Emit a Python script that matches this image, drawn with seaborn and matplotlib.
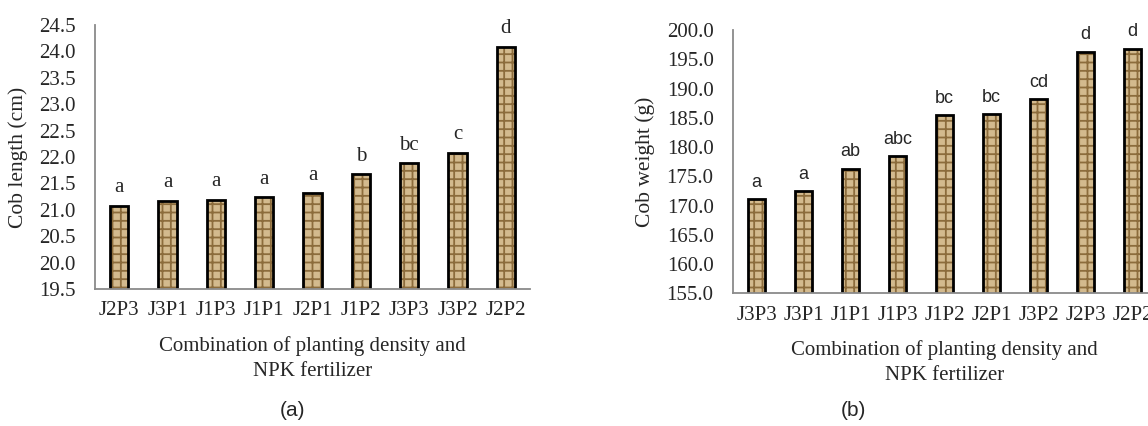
"""Cob length and cob weight by planting density x NPK combination"""

import numpy as np
import matplotlib
matplotlib.use("Agg")
import matplotlib.pyplot as plt
import seaborn as sns

# data
length_labels = ["J2P3", "J3P1", "J1P3", "J1P1", "J2P1", "J1P2", "J3P3", "J3P2", "J2P2"]
length_values = [21.08, 21.17, 21.19, 21.24, 21.31, 21.67, 21.88, 22.08, 24.09]
length_letters = ["a", "a", "a", "a", "a", "b", "bc", "c", "d"]
length_ticks = [19.5, 20.0, 20.5, 21.0, 21.5, 22.0, 22.5, 23.0, 23.5, 24.0, 24.5]

weight_labels = ["J3P3", "J3P1", "J1P1", "J1P3", "J1P2", "J2P1", "J3P2", "J2P3", "J2P2"]
weight_values = [171.1, 172.5, 176.3, 178.4, 185.4, 185.6, 188.2, 196.3, 196.8]
weight_letters = ["a", "a", "ab", "abc", "bc", "bc", "cd", "d", "d"]
weight_ticks = [155.0, 160.0, 165.0, 170.0, 175.0, 180.0, 185.0, 190.0, 195.0, 200.0]

X_TITLE = "Combination of planting density and\nNPK fertilizer"
AXIS_GREY = "#8a8a8a"
BAR_FACE = "#d3ba8e"
BAR_HATCH = "#8c6c3c"
SERIF = ["Liberation Serif", "DejaVu Serif"]
SANS = ["Liberation Sans", "DejaVu Sans"]

sns.set_theme(style="white")
plt.rcParams["font.family"] = SERIF
plt.rcParams["hatch.linewidth"] = 1.3


def draw_panel(ax, labels, values, letters, ticks, ylabel, label_x, letter_font, letter_size):
    # textured fill, then black outline on top
    sns.barplot(x=labels, y=values, color=BAR_FACE, saturation=1, width=0.38,
                hatch="++", edgecolor=BAR_HATCH, linewidth=0, ax=ax)
    sns.barplot(x=labels, y=values, fill=False, width=0.38,
                edgecolor="black", linewidth=2, ax=ax)

    for i, (v, s) in enumerate(zip(values, letters)):
        ax.annotate(s, (i, v), xytext=(0, 6), textcoords="offset points",
                    ha="center", va="bottom", fontsize=letter_size,
                    family=letter_font)

    ax.set_ylim(ticks[0], ticks[-1])
    ax.set_yticks(ticks)
    ax.set_yticklabels([f"{t:.1f}" for t in ticks], fontsize=15)
    ax.set_xlim(-0.5, len(labels) - 0.5)
    ax.set_xticks(np.arange(-0.5, len(labels), 1), minor=True)
    ax.tick_params(axis="x", which="major", length=0, pad=9, labelsize=15)
    ax.tick_params(axis="x", which="minor", length=5, width=1.2, color=AXIS_GREY, direction="out")
    ax.tick_params(axis="y", length=5, width=1.2, color=AXIS_GREY, direction="out", pad=9)

    for side in ["top", "right"]:
        ax.spines[side].set_visible(False)
    for side in ["left", "bottom"]:
        ax.spines[side].set_color(AXIS_GREY)
        ax.spines[side].set_linewidth(1.3)

    ax.set_ylabel(ylabel, fontsize=15.5)
    ax.yaxis.set_label_coords(label_x, 0.5)
    ax.set_xlabel(X_TITLE, fontsize=15, labelpad=11, linespacing=1.45)


fig = plt.figure(figsize=(11.48, 4.26), dpi=100)
ax1 = fig.add_axes([0.0828, 0.3216, 0.3789, 0.6197])
ax2 = fig.add_axes([0.6385, 0.3115, 0.3685, 0.6181])

draw_panel(ax1, length_labels, length_values, length_letters, length_ticks,
           "Cob length (cm)", -0.155, SERIF, 15)
draw_panel(ax2, weight_labels, weight_values, weight_letters, weight_ticks,
           "Cob weight (g)", -0.185, SANS, 13)

fig.text(0.255, 0.037, "(a)", ha="center", va="center", fontsize=15, family=SANS)
fig.text(0.743, 0.037, "(b)", ha="center", va="center", fontsize=15, family=SANS)

fig.savefig("out.png", dpi=100)
plt.close(fig)
